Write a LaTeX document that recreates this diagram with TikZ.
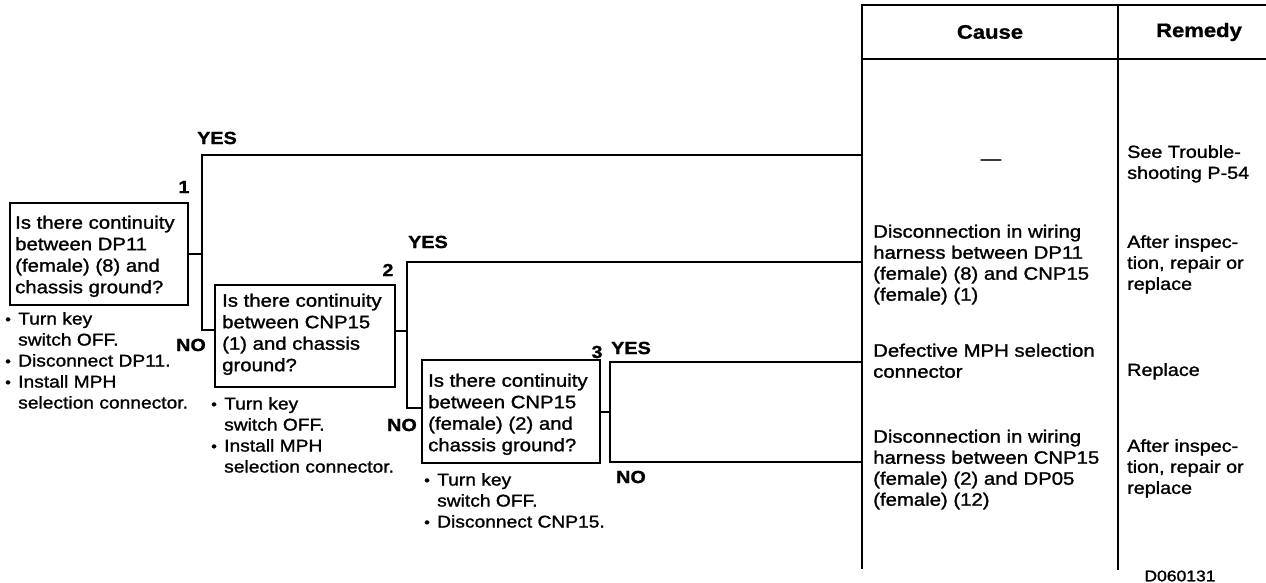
\documentclass[tikz,border=0pt]{standalone}
\usepackage{fontspec}
\usepackage{graphicx}
\setmainfont{Liberation Sans}[FakeStretch=1.13, UprightFeatures={FakeBold=1.3}, BoldFeatures={FakeBold=1.2}]
\newcommand{\bul}{\makebox[13pt][l]{\raisebox{0.02em}{\scalebox{0.85}{\textbullet}}}}
\newcommand{\ind}{\hspace*{13pt}}
\begin{document}
\begin{tikzpicture}[x=1pt,y=-1pt,
  qbox/.style={draw, line width=2.6pt, inner sep=0pt},
  conn/.style={line width=2.4pt},
  rule/.style={line width=2.4pt},
  qtext/.style={anchor=north west, align=left, inner sep=0pt, font=\fontsize{18}{21.5}\selectfont},
  note/.style={anchor=north west, align=left, inner sep=0pt, font=\fontsize{17}{21}\selectfont},
  cause/.style={anchor=north west, align=left, inner sep=0pt, font=\fontsize{18}{21}\selectfont},
  remedy/.style={anchor=north west, align=left, inner sep=0pt, font=\fontsize{17.5}{21}\selectfont},
  lab/.style={inner sep=0pt, font=\fontsize{17.5}{17.5}\selectfont\bfseries},
  head/.style={inner sep=0pt, font=\fontsize{19.5}{19.5}\selectfont\bfseries},
]
\useasboundingbox (0,0) rectangle (1266,583);

% question boxes
\node[qbox, minimum width=178pt, minimum height=102pt] (b1) at (99,254) {};
\node[qbox, minimum width=180pt, minimum height=102pt] (b2) at (305,336) {};
\node[qbox, minimum width=178pt, minimum height=103pt] (b3) at (511,411.5) {};

\node[qtext] (t1) at (15,215.5) {Is there continuity\\between DP11\\(female) (8) and\\chassis ground?};
\node[qtext] (t2) at (222,293.5) {Is there continuity\\between CNP15\\(1) and chassis\\ground?};
\node[qtext] (t3) at (428,373.5) {Is there continuity\\between CNP15\\(female) (2) and\\chassis ground?};

% notes
\node[note] (n1) at (5,312) {\bul Turn key\\\ind switch OFF.\\\bul Disconnect DP11.\\\bul Install MPH\\\ind selection connector.};
\node[note] (n2) at (211,397) {\bul Turn key\\\ind switch OFF.\\\bul Install MPH\\\ind selection connector.};
\node[note] (n3) at (424,473) {\bul Turn key\\\ind switch OFF.\\\bul Disconnect CNP15.};

% table
\coordinate (tl) at (862,5);
\coordinate (tr) at (1266,5);
\coordinate (hl) at (862,59);
\coordinate (hr) at (1266,59);
\coordinate (bl) at (862,569);
\coordinate (mt) at (1118,5);
\coordinate (mb) at (1118,570);
\draw[rule] (tr) -- (tl) -- (bl);
\draw[rule] (hl) -- (hr);
\draw[rule, line width=2.9pt] (mt) -- (mb);
\node[head] (hc) at (990,32) {Cause};
\node[head] (hm) at (1199,32) {Remedy};

% connectors
\coordinate (j1) at (202,254);
\coordinate (j1t) at (202,155);
\coordinate (j1b) at (202,330);
\coordinate (e1) at (862,155);
\draw[conn] (b1.east) -- (j1);
\draw[conn] (e1) -- (j1t) -- (j1b) -- (b2.west |- j1b);

\coordinate (j2) at (407,331);
\coordinate (j2t) at (407,262);
\coordinate (j2b) at (407,408);
\coordinate (e2) at (862,262);
\draw[conn] (b2.east |- j2) -- (j2);
\draw[conn] (e2) -- (j2t) -- (j2b) -- (b3.west |- j2b);

\coordinate (j3) at (610,412);
\coordinate (j3t) at (610,362);
\coordinate (j3b) at (610,462);
\coordinate (e3) at (862,362);
\coordinate (e4) at (862,462);
\draw[conn] (b3.east |- j3) -- (j3);
\draw[conn] (e3) -- (j3t) -- (j3b) -- (e4);

% labels
\node[lab] (y1) at (217,138) {YES};
\node[lab] (k1) at (184,187) {1};
\node[lab] (no1) at (191,345) {NO};
\node[lab] (y2) at (428,242) {YES};
\node[lab] (k2) at (388,270) {2};
\node[lab] (no2) at (402,425) {NO};
\node[lab] (k3) at (597,352) {3};
\node[lab] (y3) at (631,348) {YES};
\node[lab] (no3) at (631,477) {NO};

% causes
\node[cause, anchor=center] (c1) at (991,162) {—};
\node[cause] (c2) at (873,224.5) {Disconnection in wiring\\harness between DP11\\(female) (8) and CNP15\\(female) (1)};
\node[cause] (c3) at (873,343.5) {Defective MPH selection\\connector};
\node[cause] (c4) at (873,429.5) {Disconnection in wiring\\harness between CNP15\\(female) (2) and DP05\\(female) (12)};

% remedies
\node[remedy] (r1) at (1127,145) {See Trouble-\\shooting P-54};
\node[remedy] (r2) at (1127,235) {After inspec-\\tion, repair or\\replace};
\node[remedy] (r3) at (1127,363) {Replace};
\node[remedy] (r4) at (1127,439) {After inspec-\\tion, repair or\\replace};

\node[inner sep=0pt, font=\fontsize{15.5}{15.5}\selectfont\addfontfeature{FakeBold=0}] (code) at (1180,576) {D060131};
\end{tikzpicture}
\end{document}
